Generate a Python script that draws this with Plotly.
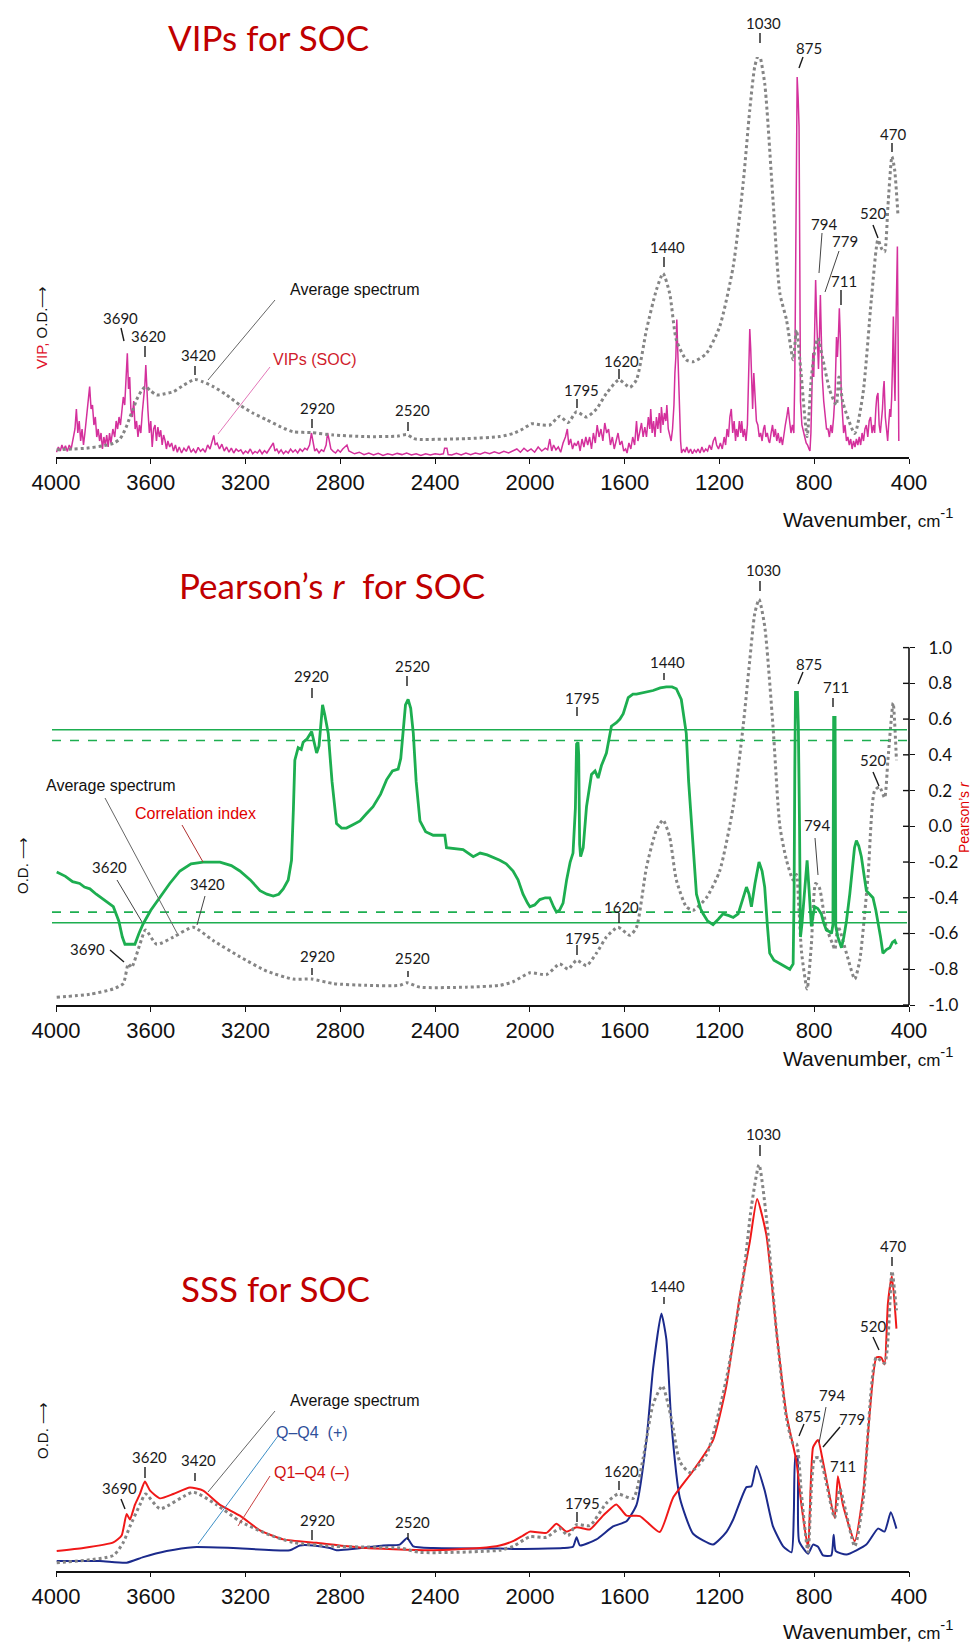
import plotly.graph_objects as go

W, H = 976, 1644

# ---------------- data ----------------
TICK_WN = [4000, 3600, 3200, 2800, 2400, 2000, 1600, 1200, 800, 400]
R_TICKS = [1.0, 0.8, 0.6, 0.4, 0.2, 0.0, -0.2, -0.4, -0.6, -0.8, -1.0]
R_SOLID = [0.54, -0.54]     # significance level, solid
R_DASHED = [0.48, -0.48]    # significance level, dashed

# Average spectrum as scaled in the VIP panel (wavenumber, O.D.)
AVG_VIP_PANEL = [
    (3997, 0.018), (3930, 0.02), (3871, 0.022), (3800, 0.028), (3758, 0.034), (3730, 0.045),
    (3716, 0.059), (3700, 0.08), (3688, 0.10), (3675, 0.118), (3660, 0.143), (3640, 0.165),
    (3622, 0.176), (3600, 0.165), (3575, 0.155), (3540, 0.158), (3505, 0.163), (3460, 0.18),
    (3414, 0.194), (3380, 0.188), (3336, 0.176), (3280, 0.155), (3224, 0.13), (3170, 0.11),
    (3111, 0.093), (3050, 0.075), (2999, 0.063), (2921, 0.061), (2830, 0.055), (2690, 0.051),
    (2560, 0.052), (2520, 0.056), (2490, 0.046), (2464, 0.044), (2267, 0.046), (2127, 0.051),
    (2071, 0.059), (2030, 0.07), (1993, 0.083), (1950, 0.08), (1916, 0.08), (1874, 0.102),
    (1839, 0.086), (1803, 0.113), (1761, 0.10), (1719, 0.12), (1677, 0.159), (1624, 0.193),
    (1578, 0.174), (1550, 0.193), (1508, 0.318), (1466, 0.418), (1438, 0.459), (1410, 0.409),
    (1382, 0.293), (1340, 0.243), (1311, 0.238), (1255, 0.259), (1199, 0.326), (1142, 0.476),
    (1100, 0.684), (1072, 0.868), (1051, 0.976), (1033, 1.009), (1009, 0.934), (974, 0.643),
    (945, 0.409), (917, 0.343), (889, 0.243), (875, 0.318), (858, 0.226), (830, 0.051),
    (812, 0.20), (794, 0.28), (784, 0.297), (763, 0.243), (735, 0.168), (707, 0.13),
    (696, 0.20), (678, 0.134), (629, 0.059), (594, 0.159), (559, 0.393), (531, 0.543),
    (515, 0.52), (503, 0.513), (489, 0.626), (472, 0.751), (461, 0.72), (447, 0.609),
]

# VIP scores for SOC (wavenumber, VIP)
VIP_SOC = [
    (3998, 0.012), (3990, 0.025), (3982, 0.015), (3975, 0.03), (3968, 0.018), (3960, 0.028),
    (3952, 0.014), (3944, 0.03), (3936, 0.02), (3928, 0.045), (3920, 0.07), (3914, 0.12),
    (3908, 0.06), (3902, 0.09), (3896, 0.04), (3890, 0.07), (3884, 0.03), (3878, 0.06),
    (3872, 0.10), (3864, 0.14), (3858, 0.176), (3852, 0.12), (3846, 0.13), (3840, 0.08),
    (3834, 0.10), (3828, 0.05), (3822, 0.07), (3816, 0.04), (3810, 0.06), (3804, 0.02),
    (3798, 0.05), (3792, 0.03), (3786, 0.055), (3780, 0.025), (3774, 0.06), (3768, 0.035),
    (3760, 0.07), (3752, 0.05), (3746, 0.09), (3740, 0.07), (3734, 0.10), (3728, 0.08),
    (3722, 0.12), (3716, 0.15), (3710, 0.13), (3704, 0.20), (3699, 0.259), (3694, 0.17),
    (3689, 0.20), (3684, 0.12), (3678, 0.10), (3672, 0.14), (3666, 0.07), (3660, 0.09),
    (3654, 0.05), (3648, 0.08), (3642, 0.06), (3636, 0.11), (3630, 0.14), (3625, 0.18),
    (3621, 0.23), (3617, 0.17), (3612, 0.117), (3606, 0.06), (3600, 0.09), (3594, 0.025),
    (3588, 0.07), (3582, 0.08), (3576, 0.04), (3570, 0.075), (3564, 0.05), (3558, 0.067),
    (3552, 0.03), (3546, 0.055), (3540, 0.042), (3534, 0.02), (3528, 0.04), (3520, 0.025),
    (3512, 0.035), (3504, 0.015), (3496, 0.03), (3488, 0.012), (3480, 0.025), (3470, 0.01),
    (3460, 0.022), (3450, 0.014), (3440, 0.028), (3430, 0.012), (3420, 0.02), (3410, 0.01),
    (3400, 0.024), (3390, 0.014), (3380, 0.02), (3370, 0.012), (3360, 0.03), (3350, 0.02),
    (3340, 0.045), (3334, 0.054), (3328, 0.03), (3320, 0.035), (3310, 0.02), (3300, 0.032),
    (3290, 0.015), (3280, 0.025), (3270, 0.012), (3260, 0.022), (3250, 0.01), (3240, 0.02),
    (3230, 0.014), (3220, 0.018), (3210, 0.008), (3200, 0.015), (3190, 0.01), (3180, 0.02),
    (3170, 0.008), (3160, 0.014), (3150, 0.01), (3140, 0.018), (3130, 0.008), (3120, 0.016),
    (3110, 0.01), (3100, 0.02), (3090, 0.028), (3083, 0.035), (3076, 0.015), (3068, 0.02),
    (3060, 0.01), (3050, 0.018), (3040, 0.008), (3030, 0.015), (3020, 0.01), (3010, 0.02),
    (3000, 0.012), (2990, 0.018), (2980, 0.01), (2970, 0.02), (2960, 0.014), (2950, 0.022),
    (2940, 0.018), (2930, 0.03), (2922, 0.06), (2916, 0.035), (2908, 0.015), (2900, 0.02),
    (2890, 0.01), (2880, 0.018), (2870, 0.014), (2860, 0.03), (2854, 0.06), (2848, 0.045),
    (2840, 0.02), (2830, 0.014), (2820, 0.01), (2810, 0.018), (2800, 0.012), (2790, 0.02),
    (2780, 0.025), (2772, 0.03), (2764, 0.015), (2750, 0.012), (2740, 0.008), (2720, 0.012),
    (2700, 0.006), (2680, 0.01), (2660, 0.005), (2640, 0.009), (2620, 0.004), (2600, 0.008),
    (2580, 0.005), (2560, 0.009), (2540, 0.006), (2520, 0.01), (2500, 0.005), (2480, 0.008),
    (2460, 0.004), (2440, 0.008), (2420, 0.005), (2400, 0.008), (2380, 0.006), (2365, 0.008),
    (2360, 0.022), (2350, 0.022), (2345, 0.006), (2330, 0.005), (2310, 0.009), (2290, 0.005),
    (2270, 0.01), (2250, 0.006), (2230, 0.01), (2210, 0.007), (2190, 0.012), (2170, 0.008),
    (2150, 0.013), (2130, 0.009), (2110, 0.014), (2090, 0.01), (2070, 0.016), (2055, 0.02),
    (2040, 0.012), (2025, 0.022), (2010, 0.014), (1995, 0.02), (1980, 0.012), (1965, 0.025),
    (1950, 0.015), (1935, 0.022), (1925, 0.018), (1916, 0.045), (1908, 0.015), (1900, 0.03),
    (1890, 0.018), (1880, 0.025), (1870, 0.012), (1860, 0.035), (1850, 0.05), (1842, 0.07),
    (1836, 0.03), (1828, 0.045), (1820, 0.02), (1812, 0.035), (1804, 0.028), (1796, 0.04),
    (1788, 0.015), (1780, 0.045), (1772, 0.025), (1764, 0.05), (1756, 0.03), (1748, 0.05),
    (1740, 0.02), (1732, 0.06), (1724, 0.035), (1716, 0.08), (1708, 0.05), (1700, 0.07),
    (1692, 0.04), (1684, 0.085), (1676, 0.06), (1668, 0.07), (1660, 0.03), (1652, 0.05),
    (1644, 0.02), (1636, 0.045), (1628, 0.06), (1620, 0.03), (1612, 0.04), (1604, 0.015),
    (1596, 0.02), (1590, 0.01), (1582, 0.035), (1574, 0.02), (1566, 0.05), (1558, 0.03),
    (1550, 0.09), (1544, 0.04), (1536, 0.07), (1529, 0.085), (1522, 0.05), (1515, 0.075),
    (1508, 0.05), (1500, 0.10), (1494, 0.07), (1490, 0.12), (1484, 0.06), (1478, 0.09),
    (1472, 0.05), (1466, 0.10), (1460, 0.07), (1454, 0.11), (1448, 0.06), (1445, 0.125),
    (1438, 0.08), (1432, 0.11), (1426, 0.09), (1422, 0.13), (1416, 0.07), (1410, 0.05),
    (1404, 0.04), (1398, 0.07), (1392, 0.13), (1388, 0.21), (1384, 0.25), (1380, 0.344),
    (1376, 0.26), (1372, 0.22), (1368, 0.12), (1364, 0.04), (1360, 0.01), (1352, 0.02),
    (1345, 0.012), (1338, 0.025), (1330, 0.01), (1322, 0.02), (1314, 0.008), (1306, 0.018),
    (1298, 0.012), (1290, 0.02), (1282, 0.01), (1274, 0.025), (1266, 0.012), (1258, 0.02),
    (1250, 0.015), (1242, 0.03), (1234, 0.018), (1226, 0.04), (1218, 0.05), (1212, 0.03),
    (1204, 0.02), (1196, 0.035), (1188, 0.02), (1180, 0.05), (1174, 0.03), (1168, 0.07),
    (1162, 0.05), (1156, 0.10), (1150, 0.12), (1144, 0.06), (1138, 0.09), (1132, 0.04),
    (1128, 0.07), (1122, 0.05), (1116, 0.09), (1110, 0.06), (1106, 0.09), (1100, 0.05),
    (1094, 0.07), (1088, 0.04), (1082, 0.08), (1076, 0.20), (1072, 0.32), (1068, 0.27),
    (1064, 0.18), (1060, 0.12), (1055, 0.21), (1050, 0.14), (1044, 0.09), (1038, 0.08),
    (1032, 0.05), (1026, 0.06), (1020, 0.04), (1014, 0.07), (1009, 0.08), (1004, 0.05),
    (998, 0.06), (992, 0.04), (988, 0.035), (982, 0.06), (976, 0.08), (970, 0.05),
    (964, 0.07), (958, 0.04), (952, 0.06), (946, 0.035), (940, 0.05), (934, 0.03),
    (928, 0.06), (922, 0.08), (916, 0.10), (910, 0.125), (904, 0.09), (898, 0.06),
    (892, 0.08), (886, 0.06), (882, 0.20), (878, 0.45), (875, 0.80), (872, 0.95),
    (868, 0.90), (864, 0.826), (861, 0.50), (858, 0.14), (852, 0.08), (846, 0.06),
    (840, 0.05), (834, 0.035), (828, 0.03), (822, 0.02), (818, 0.015), (814, 0.06),
    (810, 0.15), (806, 0.26), (802, 0.20), (798, 0.30), (794, 0.4425), (790, 0.35),
    (786, 0.25), (782, 0.22), (778, 0.30), (774, 0.405), (770, 0.30), (766, 0.20),
    (760, 0.14), (754, 0.10), (748, 0.07), (742, 0.07), (736, 0.05), (730, 0.08),
    (724, 0.06), (718, 0.10), (712, 0.16), (706, 0.30), (702, 0.25), (698, 0.30),
    (694, 0.372), (690, 0.30), (686, 0.16), (680, 0.10), (676, 0.06), (670, 0.08),
    (664, 0.04), (658, 0.05), (652, 0.03), (646, 0.045), (640, 0.02), (634, 0.04),
    (628, 0.025), (622, 0.045), (616, 0.03), (610, 0.05), (604, 0.03), (598, 0.06),
    (592, 0.04), (586, 0.07), (580, 0.08), (574, 0.05), (568, 0.09), (562, 0.10),
    (556, 0.06), (550, 0.08), (545, 0.06), (540, 0.12), (536, 0.15), (531, 0.16),
    (526, 0.08), (521, 0.06), (517, 0.085), (512, 0.12), (508, 0.17), (505, 0.19),
    (500, 0.10), (495, 0.06), (490, 0.04), (486, 0.08), (481, 0.12), (477, 0.10),
    (473, 0.15), (469, 0.25), (466, 0.351), (462, 0.20), (459, 0.14), (456, 0.30),
    (452, 0.45), (449, 0.526), (446, 0.30), (443, 0.04),
]

# Pearson's r between spectrum and SOC (wavenumber, r)
PEARSON_R = [
    (3997, -0.256), (3960, -0.28), (3930, -0.31), (3900, -0.32), (3880, -0.34), (3857, -0.35),
    (3830, -0.38), (3800, -0.41), (3758, -0.45), (3735, -0.53), (3720, -0.62), (3709, -0.66),
    (3690, -0.66), (3667, -0.66), (3650, -0.60), (3632, -0.545), (3600, -0.47), (3561, -0.40),
    (3520, -0.32), (3477, -0.25), (3430, -0.21), (3379, -0.20), (3308, -0.20), (3260, -0.22),
    (3224, -0.25), (3180, -0.30), (3139, -0.36), (3110, -0.38), (3083, -0.39), (3060, -0.38),
    (3041, -0.35), (3020, -0.30), (3006, -0.19), (2998, 0.10), (2992, 0.37), (2978, 0.44),
    (2965, 0.43), (2957, 0.47), (2940, 0.49), (2921, 0.53), (2910, 0.46), (2900, 0.41),
    (2890, 0.45), (2880, 0.62), (2875, 0.68), (2865, 0.62), (2851, 0.52), (2835, 0.25),
    (2816, 0.015), (2795, -0.01), (2774, -0.01), (2745, 0.01), (2717, 0.03), (2690, 0.07),
    (2662, 0.11), (2630, 0.18), (2605, 0.26), (2580, 0.31), (2556, 0.32), (2545, 0.38),
    (2535, 0.52), (2525, 0.68), (2514, 0.71), (2503, 0.66), (2492, 0.52), (2480, 0.25),
    (2464, 0.03), (2440, -0.03), (2408, -0.05), (2359, -0.05), (2352, -0.12), (2282, -0.13),
    (2239, -0.17), (2210, -0.15), (2180, -0.16), (2127, -0.19), (2100, -0.21), (2071, -0.25),
    (2050, -0.30), (2029, -0.38), (2010, -0.43), (2000, -0.45), (1980, -0.44), (1958, -0.41),
    (1935, -0.40), (1916, -0.40), (1900, -0.45), (1888, -0.48), (1875, -0.47), (1860, -0.43),
    (1845, -0.30), (1830, -0.20), (1818, -0.15), (1808, 0.10), (1803, 0.46), (1797, 0.47),
    (1794, 0.40), (1790, -0.10), (1786, -0.17), (1775, -0.12), (1761, 0.11), (1740, 0.29),
    (1725, 0.31), (1712, 0.27), (1698, 0.34), (1677, 0.41), (1656, 0.56), (1635, 0.58),
    (1620, 0.60), (1606, 0.63), (1585, 0.72), (1565, 0.74), (1550, 0.74), (1520, 0.75),
    (1480, 0.76), (1450, 0.775), (1424, 0.78), (1400, 0.78), (1382, 0.77), (1361, 0.71),
    (1350, 0.62), (1340, 0.52), (1330, 0.25), (1318, 0.00), (1297, -0.38), (1280, -0.46),
    (1269, -0.49), (1250, -0.53), (1227, -0.55), (1205, -0.52), (1185, -0.49), (1160, -0.50),
    (1142, -0.51), (1121, -0.49), (1100, -0.40), (1086, -0.34), (1075, -0.38), (1065, -0.45),
    (1050, -0.32), (1033, -0.20), (1020, -0.25), (1009, -0.34), (998, -0.55), (988, -0.71),
    (970, -0.75), (945, -0.77), (920, -0.79), (903, -0.80), (889, -0.77), (885, -0.38),
    (882, 0.30), (879, 0.75), (871, 0.75), (867, 0.56), (862, 0.00), (858, -0.62),
    (852, -0.55), (847, -0.47), (838, -0.30), (830, -0.19), (822, -0.35), (812, -0.56),
    (805, -0.50), (798, -0.45), (785, -0.46), (770, -0.49), (760, -0.54), (749, -0.58),
    (735, -0.59), (727, -0.60), (721, -0.55), (718, 0.61), (712, 0.61), (709, -0.56),
    (700, -0.62), (685, -0.68), (675, -0.62), (664, -0.53), (650, -0.38), (643, -0.28),
    (630, -0.12), (622, -0.08), (612, -0.11), (601, -0.17), (590, -0.28), (580, -0.36),
    (566, -0.38), (552, -0.40), (540, -0.47), (531, -0.53), (520, -0.62), (510, -0.71),
    (495, -0.69), (481, -0.68), (470, -0.65), (460, -0.64), (453, -0.66),
]

# Average spectrum as scaled against the r axis
AVG_R_PANEL = [
    (3997, -0.957), (3857, -0.94), (3758, -0.91), (3716, -0.88), (3695, -0.77), (3681, -0.79),
    (3646, -0.66), (3622, -0.58), (3575, -0.66), (3505, -0.62), (3421, -0.565), (3336, -0.64),
    (3224, -0.73), (3111, -0.81), (2999, -0.855), (2921, -0.855), (2830, -0.88), (2690, -0.89),
    (2549, -0.89), (2520, -0.875), (2464, -0.90), (2267, -0.90), (2127, -0.89), (2071, -0.87),
    (2000, -0.82), (1930, -0.83), (1874, -0.77), (1839, -0.80), (1803, -0.75), (1761, -0.78),
    (1719, -0.71), (1677, -0.62), (1628, -0.565), (1578, -0.61), (1550, -0.565), (1508, -0.23),
    (1466, -0.02), (1438, 0.035), (1410, -0.06), (1382, -0.30), (1340, -0.45), (1311, -0.47),
    (1255, -0.40), (1199, -0.25), (1142, 0.11), (1100, 0.56), (1072, 0.93), (1051, 1.19),
    (1033, 1.27), (1009, 1.12), (974, 0.56), (945, 0.0), (917, -0.19), (889, -0.30),
    (875, -0.27), (865, -0.45), (853, -0.71), (830, -0.91), (812, -0.66), (794, -0.32),
    (779, -0.34), (749, -0.565), (722, -0.66), (713, -0.69), (700, -0.56), (692, -0.58),
    (664, -0.71), (629, -0.855), (608, -0.75), (573, -0.28), (545, 0.20), (524, 0.22),
    (503, 0.16), (489, 0.37), (467, 0.69), (453, 0.37),
]

# SSS spectra: difference of quartile spectra (wavenumber, O.D.)
Q1_Q4_NEG = [
    (3997, 0.045), (3885, 0.052), (3758, 0.065), (3723, 0.081), (3702, 0.131), (3688, 0.118),
    (3667, 0.152), (3646, 0.177), (3625, 0.206), (3603, 0.185), (3561, 0.167), (3505, 0.177),
    (3435, 0.192), (3379, 0.185), (3308, 0.152), (3224, 0.127), (3139, 0.093), (3041, 0.072),
    (2900, 0.064), (2689, 0.052), (2408, 0.047), (2211, 0.052), (2127, 0.058), (2071, 0.068),
    (2029, 0.081), (2000, 0.09), (1930, 0.087), (1888, 0.108), (1846, 0.09), (1803, 0.10),
    (1747, 0.095), (1691, 0.127), (1635, 0.153), (1592, 0.127), (1536, 0.126), (1452, 0.089),
    (1396, 0.168), (1311, 0.231), (1227, 0.302), (1171, 0.427), (1114, 0.635), (1072, 0.76),
    (1041, 0.86), (1002, 0.777), (959, 0.552), (917, 0.36), (875, 0.252), (854, 0.152),
    (826, 0.052), (805, 0.285), (784, 0.302), (763, 0.252), (714, 0.122), (700, 0.218),
    (679, 0.152), (629, 0.068), (594, 0.177), (538, 0.493), (517, 0.493), (503, 0.477),
    (489, 0.618), (472, 0.681), (453, 0.56),
]

Q_Q4_POS = [
    (3997, 0.022), (3815, 0.022), (3702, 0.018), (3632, 0.031), (3533, 0.045), (3421, 0.054),
    (3252, 0.052), (3013, 0.047), (2971, 0.058), (2915, 0.058), (2844, 0.052), (2816, 0.047),
    (2619, 0.058), (2549, 0.06), (2518, 0.075), (2492, 0.056), (2408, 0.052), (2127, 0.051),
    (2071, 0.05), (1860, 0.052), (1818, 0.055), (1803, 0.077), (1789, 0.058), (1719, 0.072),
    (1649, 0.102), (1592, 0.114), (1550, 0.152), (1508, 0.302), (1480, 0.468), (1445, 0.595),
    (1424, 0.535), (1403, 0.343), (1367, 0.168), (1311, 0.085), (1227, 0.06), (1171, 0.089),
    (1142, 0.118), (1086, 0.193), (1065, 0.195), (1044, 0.242), (1009, 0.185), (974, 0.102),
    (931, 0.056), (896, 0.042), (886, 0.135), (879, 0.264), (871, 0.264), (864, 0.068),
    (826, 0.039), (805, 0.06), (784, 0.055), (763, 0.035), (728, 0.035), (718, 0.083),
    (709, 0.045), (664, 0.037), (580, 0.06), (531, 0.097), (503, 0.09), (477, 0.135),
    (453, 0.097),
]

AVG_SSS_PANEL = [
    (3997, 0.018), (3758, 0.035), (3716, 0.065), (3688, 0.102), (3646, 0.152), (3622, 0.177),
    (3561, 0.143), (3421, 0.181), (3322, 0.152), (3224, 0.114), (3111, 0.085), (2999, 0.065),
    (2830, 0.056), (2549, 0.052), (2464, 0.042), (2127, 0.047), (2071, 0.056), (2000, 0.078),
    (1930, 0.077), (1874, 0.097), (1839, 0.081), (1803, 0.106), (1747, 0.104), (1677, 0.156),
    (1628, 0.177), (1564, 0.167), (1522, 0.26), (1480, 0.385), (1441, 0.427), (1403, 0.352),
    (1367, 0.252), (1325, 0.227), (1255, 0.268), (1171, 0.443), (1100, 0.677), (1065, 0.843),
    (1033, 0.939), (1002, 0.818), (959, 0.552), (917, 0.352), (889, 0.293), (875, 0.293),
    (854, 0.177), (826, 0.043), (798, 0.26), (777, 0.26), (714, 0.122), (692, 0.189),
    (629, 0.056), (594, 0.16), (538, 0.493), (503, 0.48), (472, 0.693), (453, 0.602),
]

# ---------------- styling ----------------
NUM_FONT = "Lato, Noto Sans, sans-serif"
SANS = "Liberation Sans, Arial, sans-serif"
TITLE_RED = "#C00000"
GREY = "#858585"


def px(x):
    return x / W


def py(y):
    return 1 - y / H


def split(points):
    return [p[0] for p in points], [p[1] for p in points]


fig = go.Figure()

# panel 1: VIPs
wn, v = split(VIP_SOC)
fig.add_trace(go.Scatter(x=wn, y=v, mode="lines", line=dict(color="#D4309C", width=1.5),
                         xaxis="x", yaxis="y", showlegend=False))
wn, v = split(AVG_VIP_PANEL)
fig.add_trace(go.Scatter(x=wn, y=v, mode="lines", line=dict(color=GREY, width=3, dash="dot",
                         shape="spline", smoothing=0.6), xaxis="x", yaxis="y", showlegend=False))

# panel 2: Pearson's r
wn, v = split(AVG_R_PANEL)
fig.add_trace(go.Scatter(x=wn, y=v, mode="lines", line=dict(color=GREY, width=3, dash="dot",
                         shape="spline", smoothing=0.6), xaxis="x2", yaxis="y2", showlegend=False))
wn, v = split(PEARSON_R)
fig.add_trace(go.Scatter(x=wn, y=v, mode="lines", line=dict(color="#1DAE50", width=2.8),
                         xaxis="x2", yaxis="y2", showlegend=False))

# panel 3: SSS
wn, v = split(Q_Q4_POS)
fig.add_trace(go.Scatter(x=wn, y=v, mode="lines", line=dict(color="#1B2A8C", width=2,
                         shape="spline", smoothing=0.5), xaxis="x3", yaxis="y3", showlegend=False))
wn, v = split(Q1_Q4_NEG)
fig.add_trace(go.Scatter(x=wn, y=v, mode="lines", line=dict(color="#F01818", width=2,
                         shape="spline", smoothing=0.5), xaxis="x3", yaxis="y3", showlegend=False))
wn, v = split(AVG_SSS_PANEL)
fig.add_trace(go.Scatter(x=wn, y=v, mode="lines", line=dict(color=GREY, width=3, dash="dot",
                         shape="spline", smoothing=0.6), xaxis="x3", yaxis="y3", showlegend=False))

x_dom = [px(56), px(909)]
xaxis_style = dict(
    domain=x_dom, range=[4000, 400], tickvals=TICK_WN, ticktext=[str(t) for t in TICK_WN],
    showline=True, linecolor="#111", linewidth=1.6, ticks="outside", ticklen=5,
    tickcolor="#111", tickwidth=1.4, showgrid=False, zeroline=False, automargin=False,
    tickfont=dict(family=SANS, size=22, color="#111"),
)

shapes = []
annotations = []

# threshold lines on the r axis
for r in R_SOLID:
    shapes.append(dict(type="line", xref="paper", yref="y2", x0=px(52), x1=px(907), y0=r, y1=r,
                       line=dict(color="#1DAE50", width=1.6)))
for r in R_DASHED:
    shapes.append(dict(type="line", xref="paper", yref="y2", x0=px(52), x1=px(907), y0=r, y1=r,
                       line=dict(color="#1DAE50", width=1.6, dash="dash")))
# right-hand r axis line (only over -1..1)
shapes.append(dict(type="line", xref="paper", yref="y2", x0=px(909), x1=px(909),
                   y0=R_TICKS[-1], y1=R_TICKS[0], line=dict(color="#111", width=1.6)))
# inner half of the r-axis tick marks
for t in R_TICKS:
    shapes.append(dict(type="line", xref="paper", yref="y2", x0=px(903), x1=px(909),
                       y0=t, y1=t, line=dict(color="#111", width=1.4)))


def label(x, y, text, size=15, color="#1a1a1a", family=NUM_FONT, xanchor="center", angle=0):
    annotations.append(dict(x=px(x), y=py(y), xref="paper", yref="paper", text=text,
                            showarrow=False, xanchor=xanchor, yanchor="middle", textangle=angle,
                            font=dict(family=family, size=size, color=color)))


def stroke(x0, y0, x1, y1, color="#1a1a1a", width=1.3):
    shapes.append(dict(type="line", xref="paper", yref="paper", x0=px(x0), y0=py(y0),
                       x1=px(x1), y1=py(y1), line=dict(color=color, width=width)))


PEAK_LABELS = [
    # VIP panel
    ("1030", 763, 23, (760, 33, 760, 43)), ("875", 809, 48, (803, 57, 799, 68)),
    ("470", 893, 134, (892, 143, 892, 152)), ("520", 873, 213, (873, 225, 878, 238)),
    ("794", 824, 224, (822, 233, 819, 273)), ("779", 845, 241, (839, 251, 825, 292)),
    ("711", 844, 281, (841, 290, 841, 305)), ("1440", 667, 247, (664, 257, 664, 267)),
    ("1620", 621, 361, (619, 369, 619, 379)), ("1795", 581, 390, (577, 399, 577, 408)),
    ("2920", 317, 408, (312, 419, 312, 428)), ("2520", 412, 410, (408, 422, 408, 431)),
    ("3420", 198, 355, (195, 366, 195, 375)), ("3620", 148, 336, (145, 346, 145, 357)),
    ("3690", 120, 318, (121, 328, 124, 341)),
    # Pearson panel
    ("1030", 763, 570, (760, 581, 760, 591)), ("2920", 311, 676, (312, 688, 312, 698)),
    ("2520", 412, 666, (407, 676, 407, 686)), ("1795", 582, 698, (577, 707, 577, 716)),
    ("1440", 667, 662, (664, 673, 664, 680)), ("875", 809, 664, (803, 672, 798, 684)),
    ("711", 836, 687, (833, 698, 833, 707)), ("520", 873, 760, (873, 772, 879, 786)),
    ("794", 817, 825, (815, 838, 818, 875)), ("3620", 109, 867, (117, 880, 142, 922)),
    ("3420", 207, 884, (205, 896, 197, 925)), ("3690", 87, 949, (110, 950, 124, 962)),
    ("1620", 621, 907, (619, 913, 619, 923)), ("1795", 582, 938, (577, 945, 577, 955)),
    ("2920", 317, 956, (312, 968, 312, 975)), ("2520", 412, 958, (408, 971, 408, 977)),
    # SSS panel
    ("1030", 763, 1134, (760, 1145, 760, 1156)), ("470", 893, 1246, (892, 1257, 892, 1266)),
    ("1440", 667, 1286, (664, 1297, 664, 1304)), ("520", 873, 1326, (873, 1337, 879, 1350)),
    ("794", 832, 1395, (826, 1407, 819, 1443)), ("875", 808, 1416, (804, 1424, 799, 1436)),
    ("779", 852, 1419, (840, 1427, 823, 1447)), ("711", 843, 1466, None),
    ("1620", 621, 1471, (619, 1481, 619, 1490)), ("1795", 582, 1503, (577, 1512, 577, 1522)),
    ("3620", 149, 1457, (145, 1467, 145, 1478)), ("3420", 198, 1460, (195, 1473, 195, 1481)),
    ("3690", 119, 1488, (121, 1499, 125, 1509)), ("2920", 317, 1520, (312, 1530, 312, 1540)),
    ("2520", 412, 1522, (408, 1533, 408, 1540)),
]
for text, x, y, tick in PEAK_LABELS:
    label(x, y, text)
    if tick:
        thin = abs(tick[3] - tick[1]) > 20
        stroke(*tick, color="#444" if thin else "#1a1a1a", width=1 if thin else 1.4)

# series call-outs
label(355, 289, "Average spectrum", 16, "#111", SANS)
stroke(275, 300, 208, 380, "#666", 1)
label(315, 360, "VIPs (SOC)", 16, "#D01C2C", SANS)
stroke(270, 367, 218, 434, "#E377B8", 1)

label(111, 785, "Average spectrum", 16, "#111", SANS)
stroke(105, 798, 177, 933, "#666", 1)
label(195, 813, "Correlation index", 16, "#E00000", SANS)
stroke(182, 825, 203, 862, "#B03030", 1)

label(355, 1400, "Average spectrum", 16, "#111", SANS)
stroke(275, 1411, 208, 1492, "#666", 1)
label(312, 1432, "Q–Q4  (+)", 16, "#2F4F9A", SANS)
stroke(278, 1436, 198, 1544, "#3D8FC6", 1)
label(312, 1472, "Q1–Q4 (–)", 16, "#D01010", SANS)
stroke(270, 1476, 238, 1526, "#C84040", 1)

# panel titles
label(268, 37, "VIPs for SOC", 35, TITLE_RED)
label(332, 585, "Pearson’s <i>r</i>  for SOC", 35, TITLE_RED)
label(275, 1288, "SSS for SOC", 35, TITLE_RED)

# axis captions
label(42, 328, '<span style="color:#E0102A">VIP,</span> O.D.⟶', 15, "#111", SANS, angle=-90)
label(22, 866, "O.D. ⟶", 15, "#111", SANS, angle=-90)
label(42, 1431, "O.D. ⟶", 15, "#111", SANS, angle=-90)
label(964, 817, "Pearson’s <i>r</i>", 14, "#E00000", SANS, angle=-90)
for y in (518, 1057, 1630):
    label(955, y, 'Wavenumber, <span style="font-size:17px">cm</span><sup>-1</sup>', 21,
          "#111", SANS, xanchor="right")

fig.update_layout(
    width=W, height=H, margin=dict(l=0, r=0, t=0, b=0, autoexpand=False),
    paper_bgcolor="white", plot_bgcolor="white", showlegend=False,
    xaxis=dict(**xaxis_style, anchor="y"),
    yaxis=dict(domain=[py(457), py(57)], range=[0, 1], visible=False, anchor="x",
               automargin=False),
    xaxis2=dict(**xaxis_style, anchor="y2"),
    yaxis2=dict(domain=[py(1005), py(594)], range=[-1, 1.3], anchor="x2", side="right",
                tickvals=R_TICKS, ticktext=[f"{t:.1f}" for t in R_TICKS], ticks="outside",
                ticklen=5, tickwidth=1.4, tickcolor="#111", showline=False, showgrid=False,
                zeroline=False, ticklabelstandoff=10, automargin=False,
                tickfont=dict(family=NUM_FONT, size=17, color="#111")),
    xaxis3=dict(**xaxis_style, anchor="y3"),
    yaxis3=dict(domain=[py(1570.5), py(1138.5)], range=[0, 1], visible=False, anchor="x3",
                automargin=False),
    shapes=shapes, annotations=annotations,
)

fig.write_html("out.html")
